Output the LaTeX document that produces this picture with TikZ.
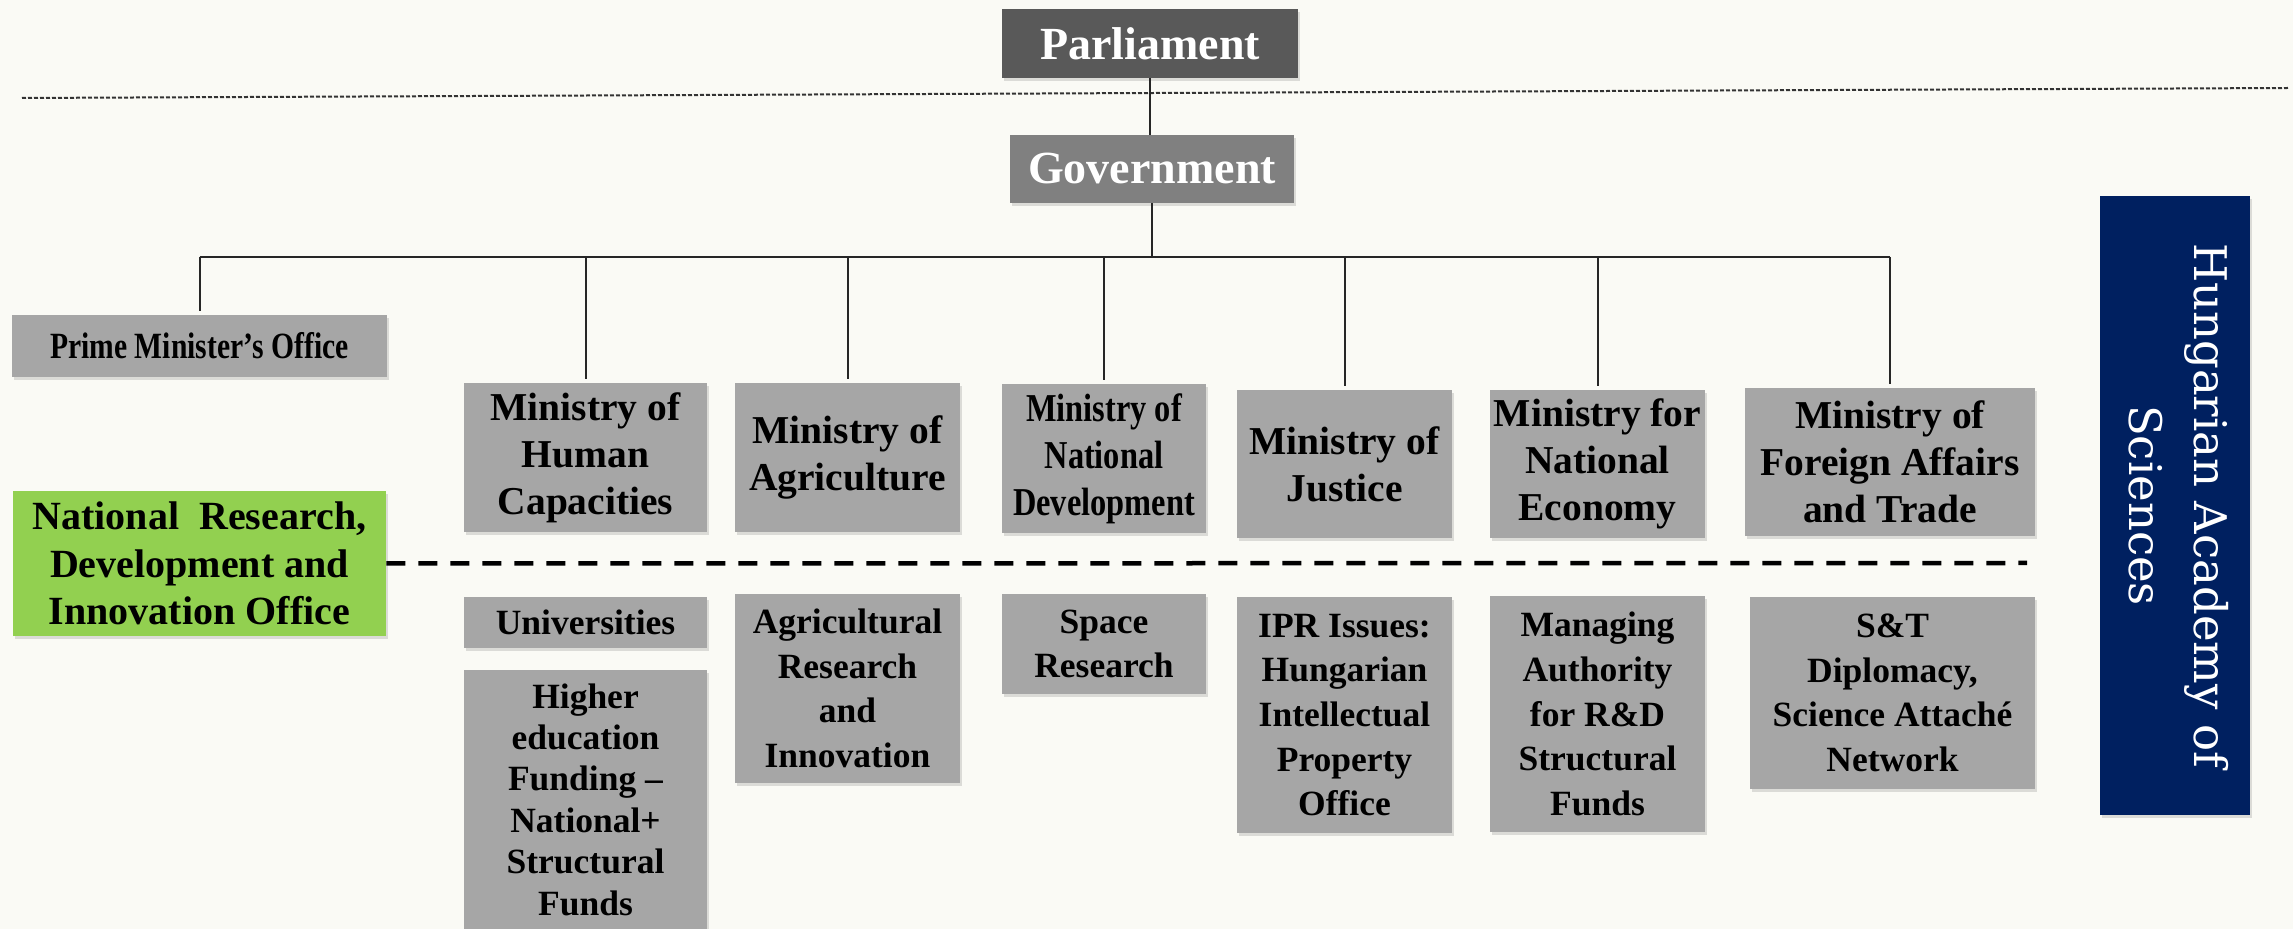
\documentclass[tikz,border=0pt]{standalone}
\usepackage{fontspec}
\setmainfont{Liberation Serif}
\newfontfamily\condfont[FakeStretch=0.8]{Liberation Serif}
\newfontfamily\condfontb[FakeStretch=0.82]{Liberation Serif}
\newfontfamily\hasfont{DejaVu Serif}
\usetikzlibrary{shadows}
\definecolor{bgcol}{RGB}{250,250,245}
\definecolor{parlcol}{RGB}{89,89,89}
\definecolor{govcol}{RGB}{128,128,128}
\definecolor{boxgray}{RGB}{166,166,166}
\definecolor{greencol}{RGB}{146,208,80}
\definecolor{navycol}{RGB}{0,32,96}
\tikzset{
  span/.style n args={4}{minimum width={(#3-#1)*0.5pt}, minimum height={(#4-#2)*0.5pt},
    at={({(#1+#3)/2},{(#2+#4)/2})}, anchor=center},
  box/.style={draw=none, inner sep=0pt, align=center,
    drop shadow={shadow xshift=0.8pt, shadow yshift=-1.5pt, opacity=0.25}},
  topbox/.style={box, text=white, font=\fontsize{23}{27}\selectfont\bfseries},
  minbox/.style={box, fill=boxgray, font=\fontsize{19.75}{23.5}\selectfont\bfseries},
  subbox/.style={box, fill=boxgray, font=\fontsize{17.75}{22.3}\selectfont\bfseries},
  conn/.style={line width=1pt, black!85},
  busline/.style={line width=1.3pt, black!85},
  sepline/.style={line width=1pt, black!80, dash pattern=on 2pt off 1pt},
  officeline/.style={line width=2.25pt, black, dash pattern=on 9.5pt off 6.5pt},
}
\begin{document}
\begin{tikzpicture}[x=0.5pt,y=-0.5pt]
\useasboundingbox (0,0) rectangle (2293,929);
\fill[bgcol] (0,0) rectangle (2293,929);

% top
\node[topbox, fill=parlcol, span={1002}{9}{1298}{78}] (parl) {Parliament};
\node[topbox, fill=govcol, span={1010}{135}{1294}{203}] (gov) {Government};

% separator
\coordinate (sepL) at (22,98);
\coordinate (sepR) at (2289,88);
\draw[sepline] (sepL) -- (sepR);

% left column
\node[box, fill=boxgray, span={12}{315}{387}{377},
      font=\condfont\fontsize{18.5}{22}\selectfont\bfseries] (pmo) {Prime Minister’s Office};
\node[box, fill=greencol, span={13}{491}{386}{636},
      font=\fontsize{20}{23.75}\selectfont\bfseries] (nrdi) {National\ \ Research,\\Development and\\Innovation Office};

% ministries
\node[minbox, span={464}{383}{707}{532}] (mhc) {Ministry of\\Human\\Capacities};
\node[minbox, span={735}{383}{960}{532}] (agr) {Ministry of\\Agriculture};
\node[minbox, span={1002}{384}{1206}{533}, font=\condfontb\fontsize{19.75}{23.5}\selectfont\bfseries] (nd) {Ministry of\\National\\Development};
\node[minbox, span={1237}{390}{1452}{538}] (jus) {Ministry of\\Justice};
\node[minbox, span={1490}{390}{1705}{538}] (eco) {Ministry for\\National\\Economy};
\node[minbox, span={1745}{388}{2035}{536}] (for) {Ministry of\\Foreign Affairs\\and Trade};

% sub boxes
\node[subbox, span={464}{597}{707}{648}] (uni) {Universities};
\node[subbox, span={464}{670}{707}{929}, font=\fontsize{17.75}{20.7}\selectfont\bfseries] (he) {Higher\\education\\Funding –\\National+\\Structural\\Funds};
\node[subbox, span={735}{594}{960}{783}] (agrr) {Agricultural\\Research\\and\\Innovation};
\node[subbox, span={1002}{594}{1206}{694}] (space) {Space\\Research};
\node[subbox, span={1237}{597}{1452}{833}] (ipr) {IPR Issues:\\Hungarian\\Intellectual\\Property\\Office};
\node[subbox, span={1490}{596}{1705}{832}] (man) {Managing\\Authority\\for R\&D\\Structural\\Funds};
\node[subbox, span={1750}{597}{2035}{789}] (snt) {S\&T\\Diplomacy,\\Science Attaché\\Network};

% academy
\node[box, fill=navycol, text=white, span={2100}{196}{2250}{815}] (has)
  {\rotatebox{-90}{\hasfont\fontsize{22.5}{32.5}\selectfont\begin{tabular}{@{}c@{}}Hungarian Academy of\\Sciences\end{tabular}}};

% connectors
\coordinate (bus) at (0,257);
\draw[conn] (parl.south) -- (parl.south |- gov.north);
\draw[conn] (gov.south) -- (gov.south |- bus);
\draw[busline] (pmo.north |- bus) -- (for.north |- bus);
\foreach \n in {pmo,mhc,agr,nd,jus,eco,for}
  \draw[conn, shorten >=2pt] (\n.north |- bus) -- (\n.north);

% office dashed line
\coordinate (dashend) at (2027,563);
\draw[officeline] (nrdi.east) -- (dashend);
\end{tikzpicture}
\end{document}
